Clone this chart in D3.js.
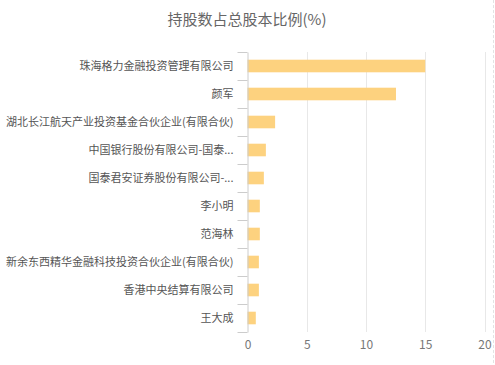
<!DOCTYPE html>
<html><head><meta charset="utf-8">
<script src="https://cdn.jsdelivr.net/npm/d3@7"></script>
<style>body{margin:0;background:#fff;}svg{display:block;}</style>
</head><body>
<svg id="c" width="495" height="365"></svg>
<script>
const title = "持股数占总股本比例(%)";
const categories = ["珠海格力金融投资管理有限公司","颜军","湖北长江航天产业投资基金合伙企业(有限合伙)","中国银行股份有限公司-国泰...","国泰君安证券股份有限公司-...","李小明","范海林","新余东西精华金融科技投资合伙企业(有限合伙)","香港中央结算有限公司","王大成"];
const values = [15.0, 12.53, 2.33, 1.55, 1.38, 1.04, 1.04, 0.96, 0.96, 0.70];
const xTicks = [0, 5, 10, 15, 20];

const svg = d3.select("#c");
const font = "'Noto Sans CJK SC', 'Noto Sans', sans-serif";
const mLeft = 247.5, mRight = 484.5, mTop = 52, mBottom = 332;

const x = d3.scaleLinear().domain([0, 20]).range([mLeft, mRight]);
const y = d3.scaleBand().domain(categories).range([mTop, mBottom]).paddingInner(0.55).paddingOuter(0.275);

// dashed border on right
svg.append("line").attr("x1",493.5).attr("x2",493.5).attr("y1",0).attr("y2",365)
  .attr("stroke","#e3e3e3").attr("stroke-dasharray","3,2");

svg.append("text").attr("x",247).attr("y",25).attr("text-anchor","middle")
  .attr("font-family",font).attr("font-size",15).attr("fill","#666").text(title);

// grid
svg.append("g").selectAll("line").data(xTicks.filter(d=>d>0)).join("line")
  .attr("x1",d=>Math.round(x(d))+0.5).attr("x2",d=>Math.round(x(d))+0.5)
  .attr("y1",mTop).attr("y2",mBottom).attr("stroke","#e8e8e8");

// bars
svg.append("g").selectAll("rect").data(values).join("rect")
  .attr("x",x(0)).attr("y",(d,i)=>y(categories[i]))
  .attr("width",d=>x(d)-x(0)).attr("height",y.bandwidth())
  .attr("fill","#fdd27f");

// y axis
const yAxisBand = d3.scaleBand().domain(categories).range([mTop, mBottom]);
const ya = svg.append("g").attr("transform",`translate(${mLeft},0)`)
  .call(d3.axisLeft(yAxisBand).tickSize(0).tickPadding(14));
ya.select(".domain").attr("stroke","#ccc");
ya.selectAll("text").attr("font-family",font).attr("font-size",11).attr("fill","#555");
const bounds = d3.range(categories.length+1).map(i=>mTop + i*yAxisBand.step());
svg.append("g").selectAll("line").data(bounds).join("line")
  .attr("x1",mLeft-10).attr("x2",mLeft).attr("y1",d=>Math.round(d)+0.5).attr("y2",d=>Math.round(d)+0.5)
  .attr("stroke","#ccc");

// x axis labels
const xa = svg.append("g").attr("transform",`translate(0,${mBottom})`)
  .call(d3.axisBottom(x).tickValues(xTicks).tickSize(0).tickPadding(8));
xa.select(".domain").remove();
xa.selectAll("text").attr("font-family",font).attr("font-size",12).attr("fill","#777");
</script>
</body></html>
